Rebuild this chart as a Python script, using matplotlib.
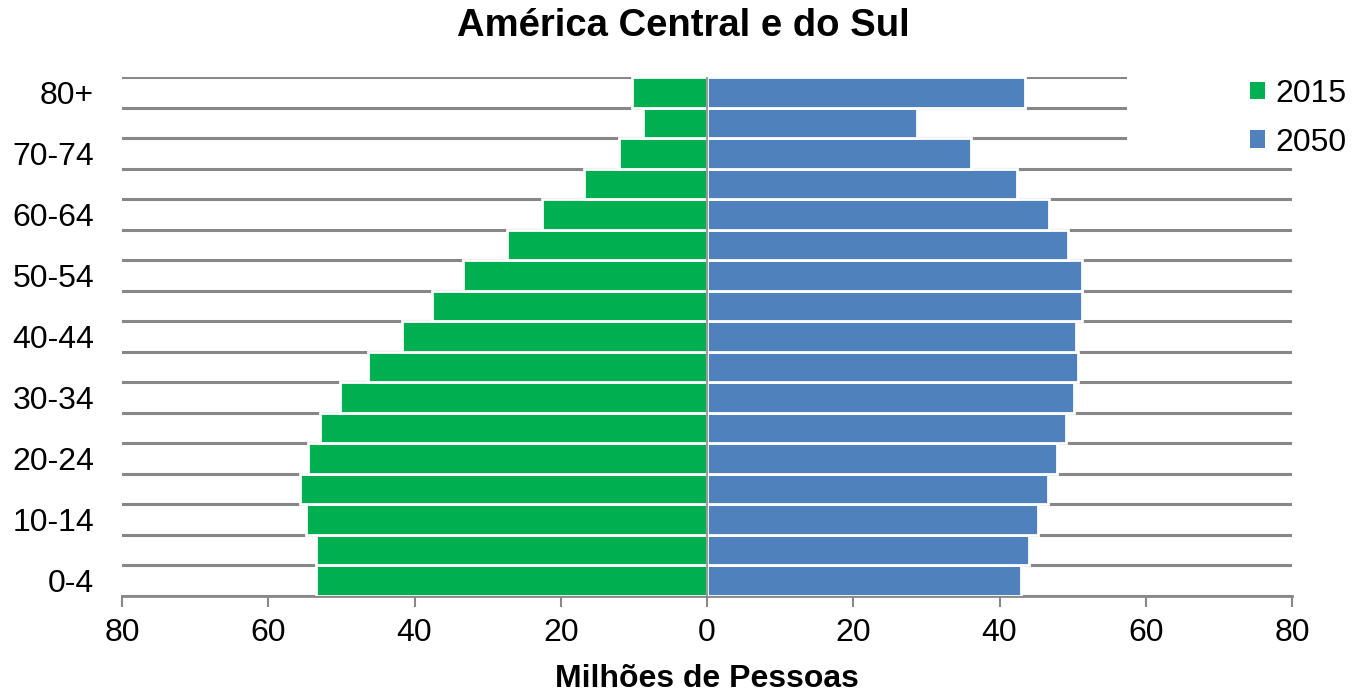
import matplotlib
matplotlib.use("Agg")
import matplotlib.pyplot as plt
from matplotlib.patches import Patch, Rectangle
from matplotlib.ticker import FuncFormatter, FixedLocator
import numpy as np

plt.rcParams['font.family'] = ['Liberation Sans', 'DejaVu Sans']

age_groups = ["0-4", "5-9", "10-14", "15-19", "20-24", "25-29", "30-34", "35-39",
              "40-44", "45-49", "50-54", "55-59", "60-64", "65-69", "70-74", "75-79", "80+"]
pop_2015 = [53.5, 53.5, 54.8, 55.7, 54.6, 52.9, 50.2, 46.4, 41.7, 37.6, 33.3, 27.4,
            22.5, 16.8, 12.1, 8.8, 10.3]
pop_2050 = [42.9, 44.0, 45.3, 46.7, 47.8, 49.1, 50.2, 50.8, 50.5, 51.3, 51.3, 49.4,
            46.8, 42.4, 36.1, 28.7, 43.5]
series_labels = ["2015", "2050"]
colors = ["#00B050", "#4F81BD"]
x_ticks = [-80, -60, -40, -20, 0, 20, 40, 60, 80]

W, H = 1354, 695
fig = plt.figure(figsize=(W / 100, H / 100), dpi=100)
ax = fig.add_axes([122 / W, 1 - 596 / H, (1292 - 122) / W, (596 - 77) / H])

y = np.arange(len(age_groups))
ax.barh(y, -np.array(pop_2015), height=1.0, color=colors[0], edgecolor='white',
        linewidth=2, zorder=3)
ax.barh(y, pop_2050, height=1.0, color=colors[1], edgecolor='white',
        linewidth=2, zorder=3)
ax.axvline(0, color='#888888', linewidth=1.2, zorder=4)

ax.set_xlim(-80, 80)
ax.set_ylim(-0.5, len(age_groups) - 0.5)

# gridlines at category boundaries
ax.yaxis.set_minor_locator(FixedLocator(np.arange(-0.5, len(age_groups), 1.0)))
ax.grid(True, which='minor', axis='y', color='#878787', linewidth=2.2, zorder=1)
ax.grid(False, which='major')
ax.set_yticks(y[::2])
ax.set_yticklabels(age_groups[::2])
ax.tick_params(axis='y', which='both', length=0, pad=20, labelsize=23)

ax.set_xticks(x_ticks)
ax.xaxis.set_major_formatter(FuncFormatter(lambda v, p: f"{abs(int(v))}"))
ax.tick_params(axis='x', length=8, width=1.5, color='#888888', labelsize=23, pad=8)

for s in ['top', 'right', 'left']:
    ax.spines[s].set_visible(False)
ax.spines['bottom'].set_color('#888888')
ax.spines['bottom'].set_linewidth(2)

fig.text(683 / W, 1 - 26 / H, "América Central e do Sul", ha='center', va='center',
         fontsize=27.5, fontweight='bold')
fig.text(707 / W, 1 - 679 / H, "Milhões de Pessoas", ha='center', va='center',
         fontsize=23, fontweight='bold')

# white legend background covering the gridlines
fig.patches.append(Rectangle((1127 / W, 1 - 158 / H), (W - 1127) / W, 100 / H,
                             transform=fig.transFigure, facecolor='white',
                             edgecolor='none', zorder=5))

handles = [Patch(facecolor=c, edgecolor='none') for c in colors]
leg = fig.legend(handles, series_labels, loc='upper left',
                 bbox_to_anchor=(1250 / W, 1 - 79 / H), fontsize=23, frameon=False,
                 handlelength=0.47, handleheight=0.47, handletextpad=0.33,
                 labelspacing=0.58, borderaxespad=0, borderpad=0)
leg.set_zorder(10)

fig.savefig("out.png", dpi=100)
